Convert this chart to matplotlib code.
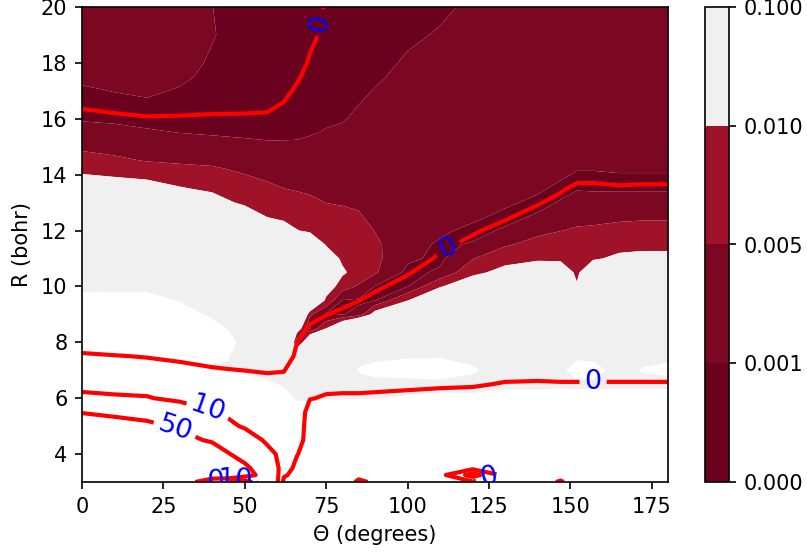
import numpy as np
import matplotlib
matplotlib.use('Agg')
import matplotlib.pyplot as plt

# sampling grid: scattering angle (degrees) and distance (bohr)
theta = [0, 10, 20, 30, 40, 45, 50, 57, 62, 66, 70, 75, 80, 85, 90, 100, 110,
         120, 130, 140, 147, 152, 157, 165, 172, 180]
r_bohr = [3.0, 3.25, 3.5, 4.0, 4.5, 5.0, 5.5, 6.0, 6.5, 7.0, 7.5, 8.0, 8.5,
          9.0, 9.5, 10.0, 10.5, 11.0, 11.5, 12.0, 12.5, 13.0, 13.5, 14.0,
          14.5, 15.0, 15.5, 16.0, 16.5, 17.0, 17.5, 18.0, 19.0, 20.0]

# relative difference in units of 1e-3, one list per angle (along r_bohr)
diff_milli = [
    [200]*13 + [160, 120, 85, 60, 50, 42, 35, 28, 20, 14.7, 10.2, 6.8, 4.2, 2.3, 0.7, 0.1, 0.6, 1.6, 2.6, 3.5, 3.5],
    [200]*13 + [164, 124, 84, 58, 48, 40, 33, 25, 18, 13.6, 9.3, 5.8, 3.65, 1.9, 0.5, 0.1, 1.1, 2.1, 3.1, 3.5, 3.5],
    [200]*13 + [164, 124, 84, 58, 47, 39, 31, 23, 17, 12.7, 8.5, 4.8, 3.1, 1.35, 0.2, 0.5, 1.5, 2.5, 3.5, 3.5, 3.5],
    [200]*12 + [176, 136, 96, 70, 52, 43, 35, 27, 20, 15, 10.5, 7.1, 4.4, 2.7, 0.98, 0.1, 0.1, 0.7, 1.7, 2.7, 3.5, 3.5],
    [200]*8 + [144, 97, 104, 144, 128, 88, 66, 55, 47, 40, 32, 25, 18, 12.7, 9.0, 6.4, 4.15, 2.3, 0.7, 0.1, 0.1, 0.1, 0.1, 0.4, 1.3, 1.05],
    [200]*8 + [136, 96, 102, 125, 96, 75, 60, 51, 44, 37, 30, 23, 16, 10.5, 8.0, 5.7, 3.8, 2.0, 0.6] + [0.1]*7,
    [200]*7 + [168, 128, 88, 80, 75, 65, 58, 52, 46, 40, 34, 27, 20, 13, 9.2, 7.1, 5.05, 3.4, 1.8, 0.5, 0.1, 0.1, 0.1, 0.1, 0.1, 0.1, 0.1],
    [200]*7 + [152, 112, 72, 60, 54, 48, 43, 38, 33, 28, 23, 18, 14, 9.8, 7.8, 5.8, 4.2, 2.9, 1.5, 0.4] + [0.1]*7,
    [200]*6 + [172, 132, 92, 50, 45, 42, 38, 35, 31, 28, 24, 20, 16, 12.2, 9, 7, 5.02, 3.8, 2.6, 1.5, 0.4] + [0.1]*7,
    [200]*5 + [172, 132, 92, 70, 50, 25, 0.2, 15, 30, 36, 33, 28, 23, 17, 10.2, 8.1, 6.3, 4.7, 3.6, 2.6, 1.5, 0.5] + [0.1]*7,
    [200]*5 + [172, 132, 92, 60, 50, 40, 22, 0.5, 6.0, 25, 35, 30, 24, 16, 9.1, 7.4, 5.7, 4.45, 3.4, 2.6, 1.7, 0.8] + [0.1]*7,
    [200]*5 + [176, 136, 96, 65, 55, 45, 35, 10, 0.3, 8.5, 14, 18, 14, 9.6, 8.1, 6.6, 4.95, 4.2, 3.5, 2.7, 1.9, 1.2, 0.6] + [0.1]*6,
    [200]*5 + [176, 136, 96, 65, 70, 65, 45, 20, 0.8, 0.9, 7, 11, 9.0, 8.2, 7.2, 6.0, 4.7, 4.0, 3.4, 2.8, 2.1, 1.5, 0.8, 0.4] + [0.1]*5,
    [200]*6 + [140, 98, 85, 104, 88, 60, 35, 2.0, 0.5, 4.5, 7.5, 8.5, 8.0, 6.5, 5.3, 4.6, 4.0, 3.4, 2.9, 2.4, 1.9, 1.5, 1.0, 0.6, 0.3, 0.1, 0.1, 0.1],
    [200]*6 + [140, 98, 85, 115, 90, 60, 35, 13, 0.95, 0.9, 5.5, 6.0, 5.8, 4.9, 4.2, 3.6, 3.2, 2.9, 2.6, 2.3, 2.0, 1.7, 1.4, 1.1, 0.7, 0.3, 0.1, 0.1],
    [200]*6 + [144, 104, 85, 120, 96, 65, 40, 22, 9.8, 0.9, 0.1, 1.6, 2.1, 2.5, 2.8, 3.0, 3.0, 3.0, 2.9, 2.7, 2.5, 2.3, 2.0, 1.8, 1.6, 1.3, 0.6, 0.3],
    [200]*6 + [148, 108, 88, 125, 96, 70, 50, 32, 18, 9.5, 1.5, 0.3, 0.6, 1.5, 2.4, 2.7, 2.9, 3.0, 3.0, 3.0, 2.9, 2.7, 2.5, 2.3, 2.0, 1.8, 1.2, 0.6],
    [200]*6 + [152, 112, 80, 108, 85, 65, 50, 38, 26, 15, 8.5, 4.8, 1.2, 0.3, 1.6, 2.3, 2.7, 3.0, 3.1, 3.2, 3.2, 3.2, 3.2, 3.1, 3.0, 2.8, 2.3, 1.4],
    [200]*6 + [164, 124, 85, 70, 60, 52, 45, 38, 28, 19, 12, 8.0, 4.5, 1.3, 0.3, 1.5, 2.2, 2.7, 3.0] + [3.2]*9,
    [200]*6 + [164, 124, 85, 70, 60, 52, 45, 38, 30, 22, 14, 9.2, 6.4, 4.0, 1.3, 0.3, 1.5, 2.3, 2.8] + [3.2]*9,
    [200]*6 + [168, 128, 88, 85, 65, 52, 45, 38, 30, 22, 14, 9.0, 7.5, 4.9, 3.0, 1.2, 0.3, 1.5, 2.2, 2.7] + [3.2]*8,
    [200]*6 + [168, 128, 85, 130, 88, 60, 45, 35, 24, 10.5, 9.0, 8.0, 6.8, 5.4, 4.0, 2.2, 0.8, 0.7, 1.8, 2.4, 2.8] + [3.2]*7,
    [200]*6 + [168, 128, 85, 125, 85, 60, 48, 40, 32, 24, 15, 9.4, 7.5, 5.6, 4.0, 2.2, 0.7, 0.7, 1.8, 2.4, 2.8] + [3.2]*7,
    [200]*6 + [168, 128, 85, 75, 65, 55, 48, 41, 34, 27, 20, 11, 8.5, 6.3, 4.2, 2.3, 0.7, 0.9, 1.8, 2.4, 2.8] + [3.2]*7,
    [200]*6 + [168, 128, 85, 104, 85, 60, 50, 42, 35, 27, 19, 11.5, 8.7, 6.5, 4.4, 2.3, 0.7, 0.9, 1.8, 2.4, 2.8] + [3.2]*7,
    [200]*6 + [168, 128, 85, 110, 92, 62, 50, 42, 35, 27, 19, 11.5, 8.7, 6.5, 4.4, 2.3, 0.7, 0.9, 1.8, 2.4, 2.8] + [3.2]*7,
]

# interaction energy, one list per angle (along r_bohr)
energy = [
    [90, 85, 80, 72, 64, 57, 49.5, 14, 5, 2.5, 0.6, -2, -4] + [-5]*11 + [-4.5, -3.8, -2.8, -1.2, 0.5, 1.5, 2, 2, 2, 2],
    [95, 90, 84, 75, 67, 60, 45, 12, 4.5, 2.2, 0.2, -2.5, -4] + [-5]*11 + [-4.5, -3.6, -2.3, -0.8, 1.2, 2, 2, 2, 2, 2],
    [100, 95, 88, 77, 66, 56, 40, 11, 4, 1.8, -0.2, -2.8, -4.2] + [-5]*11 + [-4.4, -3.4, -2, -0.3, 1.5, 2, 2, 2, 2, 2],
    [110, 100, 92, 78, 62, 46, 22, 6, 3, 1.2, -0.8, -3, -4.5] + [-5]*11 + [-4.4, -3.4, -2.1, -0.4, 1.4, 2, 2, 2, 2, 2],
    [-15, 120, 100, 75, 45, 22, 10.5, 6, 3, 0.5, -1.8, -3.5, -4.5] + [-5]*11 + [-4.4, -3.4, -2.1, -0.6, 1.2, 2, 2, 2, 2, 2],
    [-15, 110, 85, 52, 30, 13.5, 7, 4.5, 2.5, 0.2, -2.2, -3.8, -4.8] + [-5]*11 + [-4.4, -3.4, -2.1, -0.6, 1.1, 1.9, 2, 2, 2, 2],
    [-15, 70, 58, 35, 20, 8, 5, 3.5, 2, -0.05, -2.5, -4, -5] + [-5]*11 + [-4.4, -3.4, -2.1, -0.6, 1.0, 1.8, 2, 2, 2, 2],
    [30, 28, 25, 15, 7, 5, 4, 3, 1.5, -0.4, -2.5, -4, -5] + [-5]*11 + [-4.4, -3.4, -2.1, -0.7, 0.8, 1.6, 2, 2, 2, 2],
    [-2, 1, 3, 5, 6, 6, 5.5, 4.5, 2.5, -0.3, -3.5, -4, -5] + [-5]*11 + [-4.6, -3.8, -2.8, -1.8, -0.3, 1.2, 1.8, 2, 2, 2],
    [-3, -2.5, -1.5, 0.3, 2.5, 3, 3.5, 4.5, 4.5, 3.5, 1.2, -0.1, -2.5, -4] + [-5]*10 + [-4.8, -4.2, -3.4, -2.6, -1.8, -0.7, 0.6, 1.4, 2, 2],
    [-3, -3, -3, -2.8, -2.6, -2.4, -2, 0.2, 2, 3, 3, 2.5, 0.8, -2, -4] + [-5]*9 + [-5, -4.8, -4.4, -3.8, -3, -2.2, -1.4, -0.4, 0.8, 1.5],
    [-3, -3, -3, -3, -3, -2.6, -1.8, -0.4, 1.0, 2, 2.5, 2.2, 1.2, -0.1, -2, -3.5, -4.5] + [-5]*7 + [-5, -5, -5, -4.5, -4, -3.5, -2.8, -2, -0.8, -0.3],
    [-2, -3, -3, -3, -3, -2.6, -1.8, -0.5, 0.9, 1.8, 2.2, 2.2, 1.6, 0.6, -0.8, -2.5, -3.8, -4.6] + [-5]*6 + [-5, -5, -5, -5, -5, -5, -4.5, -4, -2.5, -1.5],
    [0.6, -1, -3, -3, -3, -2.6, -1.8, -0.5, 0.9, 1.7, 2.1, 2.2, 1.8, 1.0, -0.05, -1.8, -3.2, -4.2] + [-5]*6 + [-5]*8 + [-4, -3],
    [-0.5, -2, -3, -3, -3, -2.6, -1.8, -0.6, 0.8, 1.6, 2, 2.2, 2, 1.5, 0.6, -0.4, -2, -3.5, -4.5] + [-5]*15,
    [-2, -2.5, -3, -3, -3, -2.6, -1.8, -0.8, 0.6, 1.5, 2, 2.2, 2.2, 2, 1.5, 0.8, -0.2, -1.8, -3.2, -4.2] + [-5]*14,
    [-2, -3, -3, -3, -3, -2.6, -2, -1.0, 0.4, 1.4, 2, 2.2, 2.3, 2.3, 2.1, 1.8, 1.3, 0.5, -0.5, -2, -3.3, -4.3] + [-5]*12,
    [-1, 14, -3, -3, -3, -2.6, -2, -1.2, 0.3, 1.3, 1.9, 2.2, 2.3, 2.3, 2.2, 2, 1.7, 1.2, 0.6, -0.3, -1.6, -3, -4] + [-5]*11,
    [-2, -3, -3, -3, -3, -2.8, -2.2, -1.5, -0.2, 1.0, 1.7, 2, 2.2, 2.3, 2.3, 2.3, 2.2, 2, 1.5, 0.8, -0.3, -1.5, -3, -4] + [-5]*10,
    [-2, -3, -3, -3, -3, -2.8, -2.2, -1.5, -0.3, 1.0, 1.7, 2, 2.2, 2.3, 2.3, 2.3, 2.3, 2.3, 2.1, 1.6, 0.9, -0.2, -1.6, -3, -4] + [-5]*9,
    [0.5, -2, -3, -3, -3, -2.8, -2.2, -1.5, -0.2, 1.0, 1.7, 2, 2.2, 2.3, 2.3, 2.3, 2.3, 2.3, 2.3, 2.0, 1.5, 0.7, -0.3, -1.6, -3, -4] + [-5]*8,
    [-2, -3, -3, -3, -3, -2.8, -2.2, -1.5, -0.2, 1.0, 1.7, 2, 2.2, 2.3, 2.3, 2.3, 2.3, 2.3, 2.3, 2.3, 2.0, 1.4, 0.5, -0.8, -2.2, -3.4, -4.3] + [-5]*7,
    [-2, -3, -3, -3, -3, -2.8, -2.2, -1.5, -0.2, 1.0, 1.7, 2, 2.2, 2.3, 2.3, 2.3, 2.3, 2.3, 2.3, 2.3, 2.0, 1.4, 0.55, -0.8, -2.2, -3.4, -4.3] + [-5]*7,
    [-2, -3, -3, -3, -3, -2.8, -2.2, -1.5, -0.2, 1.0, 1.7, 2, 2.2, 2.3, 2.3, 2.3, 2.3, 2.3, 2.3, 2.3, 2.0, 1.3, 0.3, -1.0, -2.3, -3.5, -4.4] + [-5]*7,
    [-2, -3, -3, -3, -3, -2.8, -2.2, -1.5, -0.2, 1.0, 1.7, 2, 2.2, 2.3, 2.3, 2.3, 2.3, 2.3, 2.3, 2.3, 2.0, 1.4, 0.4, -0.9, -2.2, -3.4, -4.3] + [-5]*7,
    [-2, -3, -3, -3, -3, -2.8, -2.2, -1.5, -0.2, 1.0, 1.7, 2, 2.2, 2.3, 2.3, 2.3, 2.3, 2.3, 2.3, 2.3, 2.0, 1.4, 0.4, -0.9, -2.2, -3.4, -4.3] + [-5]*7,
]

fill_levels = [0.0, 0.001, 0.005, 0.01, 0.1]
energy_levels = [0, 10, 50]
# where the contour labels sit (theta, R)
label_spots = [(72.5, 19.45), (112, 11.45), (157, 6.55), (125, 3.2),
               (38.7, 5.6), (28.9, 5.05), (41, 3.03), (47, 3.06)]

Z = np.array(diff_milli).T * 1e-3
E = np.array(energy).T

fig = plt.figure(figsize=(5.38, 3.7067), dpi=150)
ax = fig.add_axes([0.1016, 0.1331, 0.7261, 0.8543])
cax = fig.add_axes([0.8736, 0.1331, 0.0297, 0.8543])

cf = ax.contourf(theta, r_bohr, Z, levels=fill_levels, cmap='RdGy', antialiased=True)
cs = ax.contour(theta, r_bohr, E, levels=energy_levels, colors='r', linewidths=2)
ax.clabel(cs, fmt='%d', colors='b', fontsize=13, inline=True, manual=label_spots)

ax.set_xlim(0, 180)
ax.set_ylim(3, 20)
ax.set_xticks([0, 25, 50, 75, 100, 125, 150, 175])
ax.set_yticks([4, 6, 8, 10, 12, 14, 16, 18, 20])
ax.set_xlabel('Θ (degrees)')
ax.set_ylabel('R (bohr)')

fig.colorbar(cf, cax=cax)

fig.savefig('out.png', dpi=150)
